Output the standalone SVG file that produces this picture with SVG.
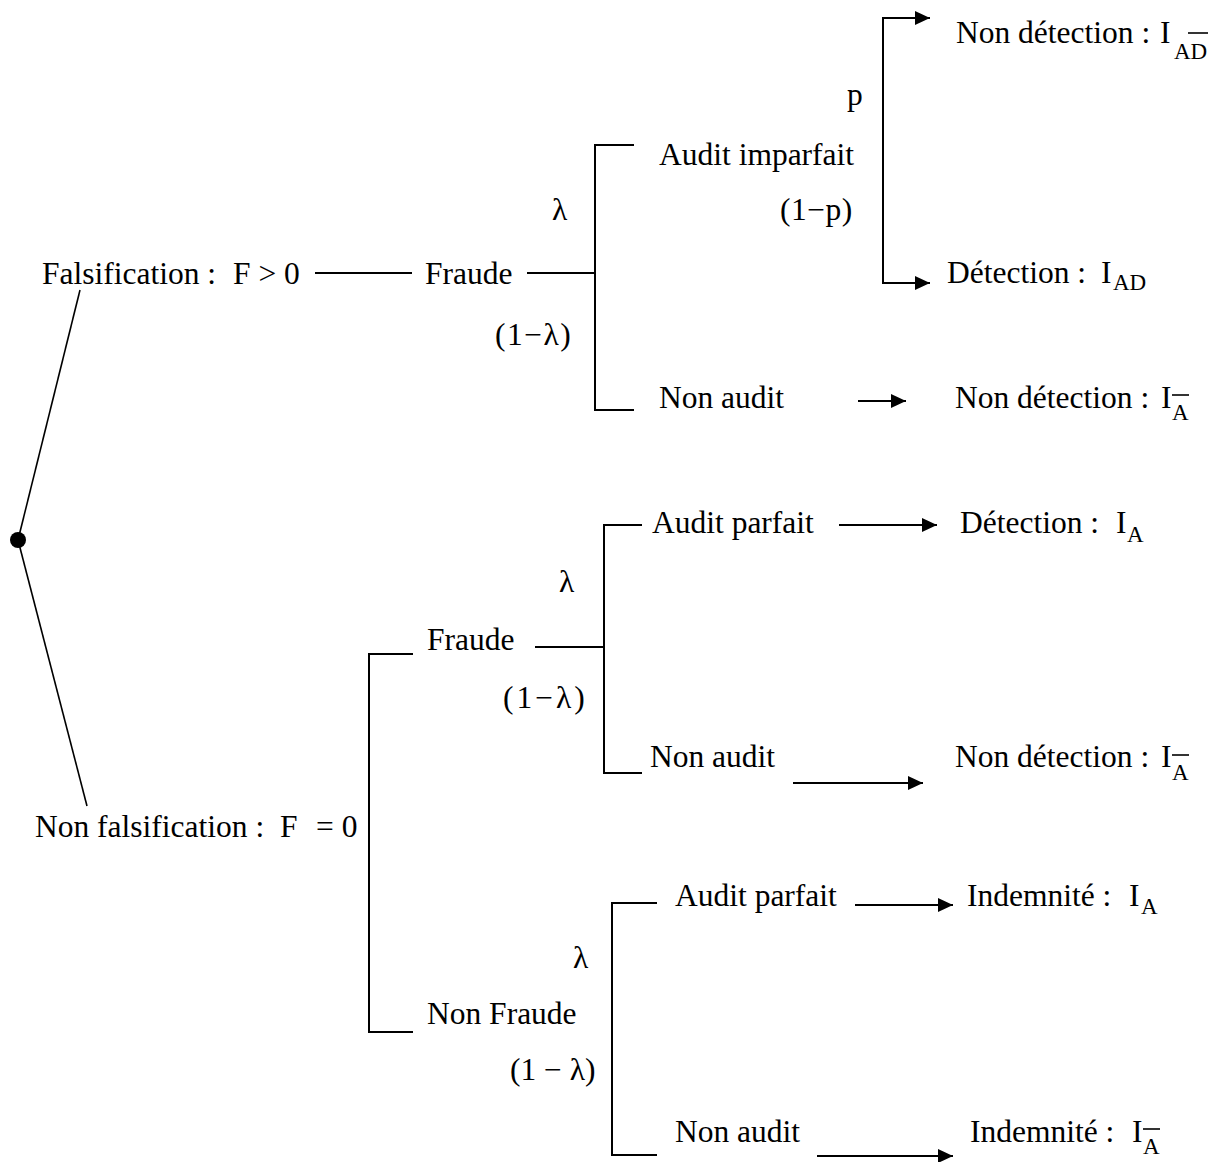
<svg xmlns="http://www.w3.org/2000/svg" width="1228" height="1162" viewBox="0 0 1228 1162">
<style>
text{font-family:"Liberation Serif","Times New Roman",serif;font-size:31.5px;fill:#000}
.sub{font-size:23px}
.ln{stroke:#000;stroke-width:2;fill:none}
.diag{stroke:#000;stroke-width:1.6;fill:none}
.ov{stroke:#000;stroke-width:1.6}
</style>
<defs>
<marker id="ah" markerUnits="userSpaceOnUse" markerWidth="16" markerHeight="14" refX="15" refY="7" orient="auto">
<path d="M0,0 L15,7 L0,14 z" fill="#000"/>
</marker>
</defs>
<rect width="1228" height="1162" fill="#fff"/>
<g id="connectors">
<line class="diag" x1="18" y1="540" x2="80" y2="290"/>
<line class="diag" x1="18" y1="540" x2="87" y2="806"/>
<line class="ln" x1="315" y1="273" x2="412" y2="273"/>
<line class="ln" x1="527" y1="273" x2="595" y2="273"/>
<polyline class="ln" points="634,145 595,145 595,410 634,410"/>
<polyline class="ln" points="930,18 883,18 883,283 930,283" marker-end="url(#ah)"/>
<line class="ln" x1="883" y1="18" x2="930" y2="18" marker-end="url(#ah)"/>
<line class="ln" x1="858" y1="401" x2="906" y2="401" marker-end="url(#ah)"/>
<polyline class="ln" points="413,654 369,654 369,1032 413,1032"/>
<line class="ln" x1="535" y1="647" x2="604" y2="647"/>
<polyline class="ln" points="642,525 604,525 604,773 642,773"/>
<line class="ln" x1="839" y1="525" x2="937" y2="525" marker-end="url(#ah)"/>
<line class="ln" x1="793" y1="783" x2="923" y2="783" marker-end="url(#ah)"/>
<polyline class="ln" points="657,903 612,903 612,1155 657,1155"/>
<line class="ln" x1="855" y1="905" x2="953" y2="905" marker-end="url(#ah)"/>
<line class="ln" x1="817" y1="1156" x2="953" y2="1156" marker-end="url(#ah)"/>
</g>
<g id="root"><circle cx="18" cy="540" r="8" fill="#000"/></g>
<g id="falsification"><text x="42" y="284">Falsification :</text><text x="233" y="284">F &gt; 0</text></g>
<g id="non-falsification"><text x="35" y="837">Non falsification :</text><text x="280" y="837">F</text><text x="316" y="837">= 0</text></g>
<g id="fraude1"><text x="425" y="284">Fraude</text></g>
<g id="lambda1"><text x="552" y="220">λ</text><text x="495" y="345" letter-spacing="1.5">(1−λ)</text></g>
<g id="audit-imparfait"><text x="659" y="165">Audit imparfait</text></g>
<g id="p-labels"><text x="847" y="105">p</text><text x="780" y="220" letter-spacing="0.5">(1−p)</text></g>
<g id="non-audit1"><text x="659" y="408">Non audit</text></g>
<g id="nd-ad"><text x="956" y="43">Non détection :</text><text x="1160" y="43">I</text><text class="sub" x="1174" y="59">AD</text><line class="ov" x1="1188" y1="33" x2="1208" y2="33"/></g>
<g id="det-ad"><text x="947" y="283">Détection :</text><text x="1101" y="283">I</text><text class="sub" x="1113" y="290">AD</text></g>
<g id="nd-a1"><text x="955" y="408">Non détection :</text><text x="1161" y="408">I</text><text class="sub" x="1172" y="420">A</text><line class="ov" x1="1172" y1="395" x2="1189" y2="395"/></g>
<g id="fraude2"><text x="427" y="650">Fraude</text></g>
<g id="lambda2"><text x="559" y="592">λ</text><text x="503" y="708" letter-spacing="3">(1−λ)</text></g>
<g id="audit-parfait1"><text x="652" y="533">Audit parfait</text></g>
<g id="det-a"><text x="960" y="533">Détection :</text><text x="1116" y="533">I</text><text class="sub" x="1127" y="542">A</text></g>
<g id="non-audit2"><text x="650" y="767">Non audit</text></g>
<g id="nd-a2"><text x="955" y="767">Non détection :</text><text x="1161" y="767">I</text><text class="sub" x="1172" y="780">A</text><line class="ov" x1="1172" y1="755" x2="1189" y2="755"/></g>
<g id="non-fraude"><text x="427" y="1024">Non Fraude</text></g>
<g id="lambda3"><text x="573" y="968">λ</text><text x="510" y="1080">(1 − λ)</text></g>
<g id="audit-parfait2"><text x="675" y="906">Audit parfait</text></g>
<g id="indemnite-a"><text x="967" y="906">Indemnité :</text><text x="1129" y="906">I</text><text class="sub" x="1141" y="914">A</text></g>
<g id="non-audit3"><text x="675" y="1142">Non audit</text></g>
<g id="indemnite-na"><text x="970" y="1142">Indemnité :</text><text x="1132" y="1142">I</text><text class="sub" x="1143" y="1154">A</text><line class="ov" x1="1143" y1="1129" x2="1160" y2="1129"/></g>
</svg>
